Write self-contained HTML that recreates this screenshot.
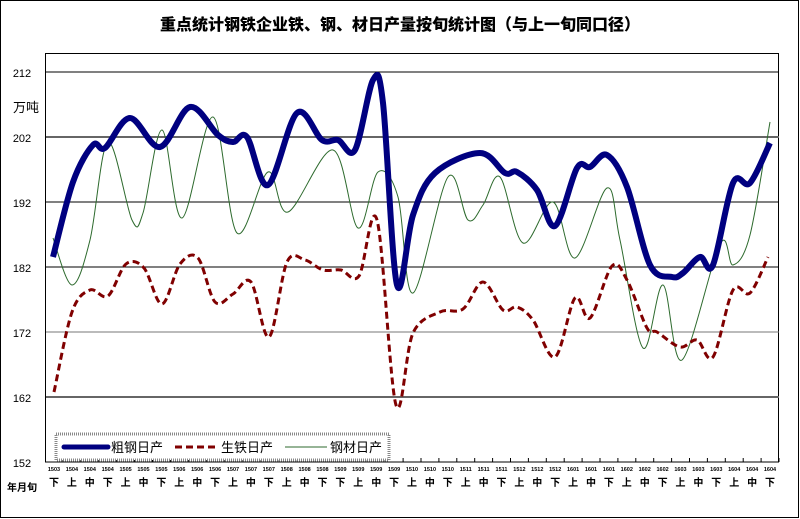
<!DOCTYPE html>
<html><head><meta charset="utf-8"><style>
body{margin:0;background:#fff;}
svg{display:block;font-family:"Liberation Sans","Noto Sans CJK SC",sans-serif;}
</style></head><body>
<svg id="s" width="800" height="519" viewBox="0 0 800 519">
<rect x="0.5" y="0.5" width="798" height="517" fill="#fff" stroke="#000"/>
<text x="400" y="30" text-anchor="middle" font-size="16" font-weight="900" font-family="'Noto Sans CJK SC','Noto Serif CJK SC',sans-serif">重点统计钢铁企业铁、钢、材日产量按旬统计图（与上一旬同口径）</text>
<rect x="45.5" y="53.5" width="733" height="408.5" fill="#fff" stroke="#000"/>
<g stroke="#000" stroke-width="1">
<line x1="46" y1="72" x2="779" y2="72"/>
<line x1="46" y1="137" x2="779" y2="137" stroke="#666" stroke-width="2"/>
<line x1="46" y1="202" x2="779" y2="202"/>
<line x1="46" y1="267" x2="779" y2="267"/>
<line x1="46" y1="332" x2="779" y2="332" stroke="#777"/>
<line x1="46" y1="397" x2="779" y2="397" stroke="#666" stroke-width="2"/>
</g>
<g font-size="11" text-anchor="middle" fill="#000">
<text x="22" y="77">212</text><text x="22" y="142">202</text><text x="22" y="207">192</text>
<text x="22" y="272">182</text><text x="22" y="337">172</text><text x="22" y="402">162</text><text x="22" y="467">152</text>
<text x="26" y="112" font-size="13">万吨</text>
</g>
<g id="ticks"></g>
<path id="green" fill="none" stroke="#2d6a2d" stroke-width="1"/>
<path id="red" fill="none" stroke="#800000" stroke-width="3" stroke-dasharray="7,4"/>
<path id="blue" fill="none" stroke="#000080" stroke-width="6"/>
<rect x="56" y="434" width="333" height="26" fill="#fff" stroke="#888" stroke-width="3" stroke-dasharray="1,1"/>
<line x1="64" y1="447" x2="108" y2="447" stroke="#000080" stroke-width="5" stroke-linecap="round"/>
<text x="111" y="452" font-size="13">粗钢日产</text>
<line x1="175" y1="447" x2="218" y2="447" stroke="#800000" stroke-width="3" stroke-dasharray="7,4"/>
<text x="221" y="452" font-size="13">生铁日产</text>
<line x1="285" y1="447" x2="327" y2="447" stroke="#2d6a2d" stroke-width="1"/>
<text x="330" y="452" font-size="13">钢材日产</text>
<text x="22" y="491" font-size="10" font-weight="bold" text-anchor="middle">年月旬</text>
</svg>
<script>
function cr(p){var d="M"+p[0][0]+","+p[0][1];for(var i=0;i<p.length-1;i++){var a=p[i-1]||p[i],b=p[i],c=p[i+1],e=p[i+2]||c;
d+=" C"+(b[0]+(c[0]-a[0])/6)+","+(b[1]+(c[1]-a[1])/6)+" "+(c[0]-(e[0]-b[0])/6)+","+(c[1]-(e[1]-b[1])/6)+" "+c[0]+","+c[1];}return d;}
var blue=[[53,257],[73,182],[93,145],[105,148],[130,118],[160,147],[190,107],[218,135],[233,142],[247,137],[268,185],[297,113],[322,140],[338,140],[355,150],[373,80],[383,103],[397,285],[413,215],[435,173],[480,153],[505,173],[517,172],[537,190],[555,226],[577,168],[590,167],[607,155],[627,187],[650,265],[672,277],[683,273],[700,257],[713,265],[733,183],[750,183],[770,143]];
var green=[[53,238],[72,285],[90,240],[108,142],[132,220],[143,213],[162,130],[182,218],[213,117],[237,233],[268,172],[288,212],[333,150],[358,228],[378,172],[398,197],[413,293],[448,177],[468,220],[483,205],[500,177],[523,243],[553,202],[575,258],[607,188],[620,240],[643,348],[663,285],[682,360],[720,244],[733,265],[750,235],[770,122]];
var red=[[54,392],[72,312],[90,290],[108,296],[126,264],[144,268],[162,304],[180,264],[198,258],[215,302],[233,294],[251,282],[269,337],[287,262],[305,260],[323,270],[341,270],[359,276],[377,220],[396,405],[413,333],[440,312],[463,309],[483,282],[503,310],[517,307],[533,320],[555,357],[575,298],[590,318],[612,266],[627,280],[647,328],[657,332],[680,347],[697,340],[713,357],[733,290],[750,293],[768,257]];
document.getElementById("blue").setAttribute("d",cr(blue));
document.getElementById("green").setAttribute("d",cr(green));
document.getElementById("red").setAttribute("d",cr(red));
var yrs=["1503","1504","1504","1504","1505","1505","1505","1506","1506","1506","1507","1507","1507","1508","1508","1508","1509","1509","1509","1509","1510","1510","1510","1511","1511","1511","1512","1512","1512","1601","1601","1601","1602","1602","1602","1603","1603","1603","1604","1604","1604"];
var xn="下上中下上中下上中下上中下上中下下上中下上中下上中下上中下上中下上中下上中下上中下";
var g=document.getElementById("ticks"),h="";
for(var i=0;i<41;i++){var x=54+i*17.9;
h+='<line x1="'+(x+9)+'" y1="458" x2="'+(x+9)+'" y2="462" stroke="#000"/>';
h+='<text x="'+x+'" y="471" font-size="5.5" font-weight="bold" text-anchor="middle">'+yrs[i]+'</text>';
h+='<text x="'+x+'" y="486" font-size="10" font-weight="bold" text-anchor="middle">'+xn[i]+'</text>';}
g.innerHTML=h;
</script>
</body></html>
